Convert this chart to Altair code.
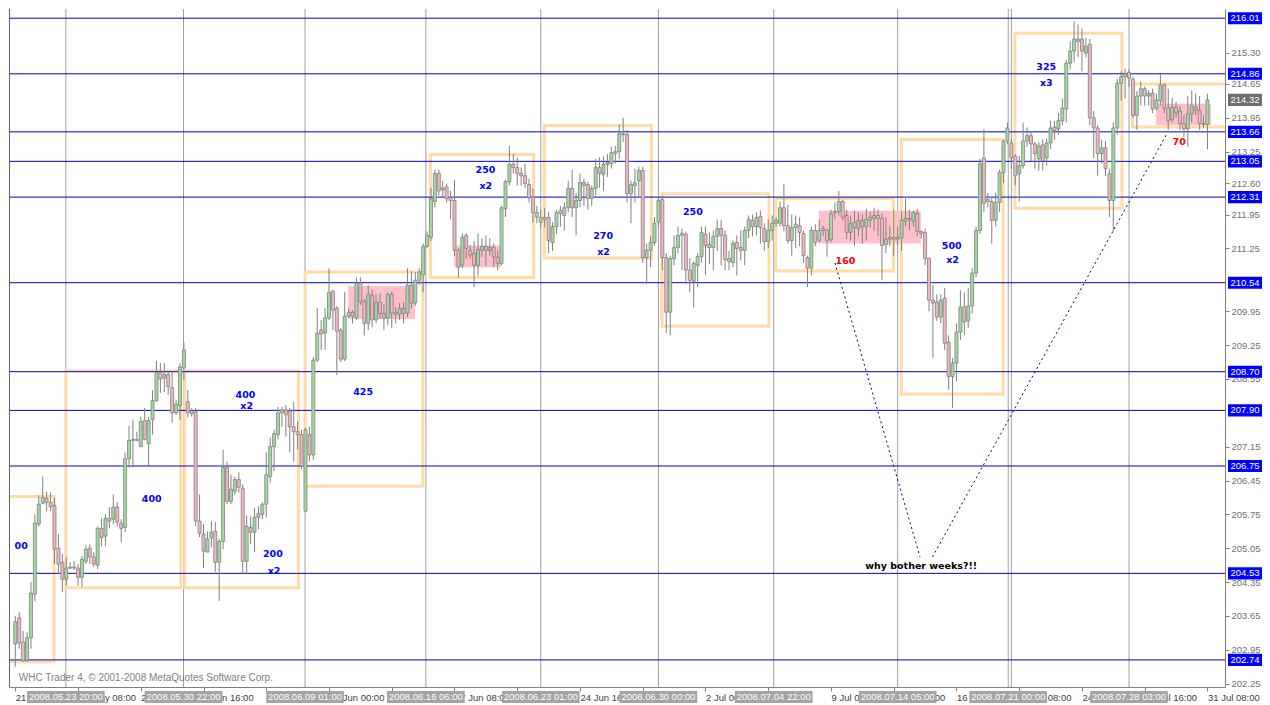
import altair as alt
import pandas as pd

W, H = 1216, 678

# ---- H4 candles (GBP/JPY, 21 May - 31 Jul 2008) ----
opens = [203.07, 203.61, 203.11, 202.72, 203.20, 204.10, 205.55, 205.98, 206.08, 206.00,
         205.93, 205.05, 204.76, 204.41, 204.66, 204.64, 204.64, 204.45, 204.78, 205.05,
         204.87, 204.70, 205.46, 205.30, 205.67, 205.65, 205.90, 205.57, 205.48, 206.90,
         207.28, 207.30, 207.15, 207.69, 207.21, 207.71, 208.10, 208.68, 208.57, 208.64,
         208.37, 207.85, 208.00, 208.78, 208.08, 207.89, 207.87, 205.61, 205.34, 204.97,
         205.26, 205.40, 204.76, 205.19, 206.72, 206.02, 206.23, 206.47, 206.29, 204.78,
         205.48, 205.38, 205.69, 205.75, 205.96, 206.53, 207.15, 207.40, 207.85, 207.91,
         207.89, 207.56, 207.46, 207.40, 205.82, 207.40, 206.98, 208.94, 209.56, 209.50,
         209.81, 210.36, 210.01, 209.56, 208.96, 209.85, 209.93, 209.81, 210.53, 210.16,
         209.70, 210.28, 209.77, 210.14, 209.90, 209.81, 210.30, 209.93, 209.89, 210.01,
         209.91, 210.49, 210.12, 210.59, 210.70, 211.29, 211.48, 212.22, 212.80, 212.46,
         212.52, 212.30, 212.24, 211.21, 210.90, 211.52, 211.21, 211.15, 210.90, 211.21,
         211.29, 211.21, 211.27, 211.07, 210.94, 212.07, 212.63, 212.99, 212.92, 212.80,
         212.75, 212.57, 212.32, 211.90, 211.79, 211.89, 211.89, 211.37, 211.70, 212.03,
         211.93, 212.09, 212.49, 212.09, 212.24, 212.61, 212.57, 212.28, 212.49, 212.92,
         212.78, 212.99, 213.00, 213.21, 213.25, 213.62, 213.60, 212.38, 212.55, 212.65,
         212.86, 211.06, 211.21, 211.37, 211.79, 212.26, 211.06, 209.93, 211.04, 211.27,
         211.52, 211.54, 210.80, 210.57, 210.90, 211.08, 211.54, 211.33, 211.27, 211.50,
         211.66, 211.52, 211.04, 210.96, 211.37, 211.27, 211.21, 211.62, 211.83, 211.70,
         211.91, 211.66, 211.39, 211.62, 211.77, 211.77, 212.09, 211.72, 211.41, 211.68,
         211.72, 211.56, 211.06, 210.84, 211.62, 211.41, 211.62, 211.62, 211.43, 211.99,
         212.01, 212.22, 211.93, 211.58, 211.79, 211.66, 211.83, 211.70, 211.83, 211.87,
         211.93, 211.87, 211.33, 211.44, 211.48, 211.44, 211.46, 211.81, 211.87, 211.81,
         211.97, 211.60, 211.58, 211.04, 210.18, 210.14, 209.83, 210.22, 209.31, 208.60,
         208.88, 209.52, 210.04, 209.75, 210.06, 210.74, 211.62, 213.12, 212.22, 212.22,
         211.83, 212.20, 212.82, 213.47, 213.43, 213.16, 212.79, 212.96, 213.47, 213.58,
         213.41, 213.10, 213.39, 213.12, 213.43, 213.76, 213.72, 213.89, 214.13, 215.08,
         215.33, 215.58, 215.58, 215.29, 215.47, 213.95, 213.74, 213.21, 213.33, 212.79,
         212.24, 213.74, 214.66, 214.80, 214.89, 214.75, 214.00, 214.40, 214.55, 214.40,
         214.46, 214.15, 214.30, 214.63, 214.15, 213.91, 214.17, 214.09, 213.83, 213.72,
         214.03, 214.17, 214.11, 213.83, 213.81]
highs = [203.65, 203.73, 203.34, 203.32, 204.35, 205.75, 206.14, 206.53, 206.22, 206.20,
         206.10, 205.34, 204.93, 204.87, 204.76, 204.78, 204.72, 204.89, 205.11, 205.13,
         204.97, 205.50, 205.67, 205.75, 205.90, 206.16, 206.00, 205.65, 207.03, 207.58,
         207.71, 207.46, 207.77, 207.95, 207.77, 208.32, 208.92, 208.88, 208.88, 208.70,
         208.70, 208.12, 208.88, 209.31, 208.32, 207.95, 207.95, 206.16, 205.55, 205.40,
         205.61, 205.59, 205.24, 207.09, 206.84, 206.57, 206.53, 206.62, 206.37, 205.73,
         205.71, 205.88, 205.92, 206.00, 207.03, 207.34, 207.50, 207.97, 207.97, 208.01,
         207.95, 208.08, 207.67, 207.50, 207.54, 207.56, 209.00, 210.02, 209.77, 210.02,
         210.84, 210.40, 210.06, 209.60, 210.35, 210.01, 209.97, 210.65, 210.65, 210.20,
         210.49, 210.40, 210.30, 210.32, 210.10, 210.34, 210.36, 210.04, 210.12, 210.14,
         210.84, 210.78, 210.76, 210.84, 211.35, 211.60, 212.50, 212.88, 212.88, 212.65,
         212.59, 212.44, 212.67, 211.25, 211.56, 211.56, 211.31, 211.40, 211.56, 211.46,
         211.52, 211.46, 211.35, 211.21, 212.13, 212.67, 213.37, 213.20, 213.13, 212.92,
         213.00, 212.69, 212.49, 212.13, 212.05, 212.09, 212.00, 211.80, 212.05, 212.13,
         212.20, 212.65, 212.88, 212.40, 212.80, 212.69, 212.63, 212.55, 213.10, 213.13,
         213.15, 213.20, 213.35, 213.37, 213.81, 213.95, 213.70, 212.65, 212.90, 212.94,
         212.94, 211.35, 211.50, 211.90, 212.30, 212.34, 211.15, 211.10, 211.52, 211.70,
         211.66, 211.60, 211.05, 210.98, 211.15, 211.70, 211.70, 211.58, 211.62, 211.85,
         211.83, 211.62, 211.20, 211.41, 211.52, 211.62, 211.70, 211.93, 211.95, 212.00,
         212.03, 211.77, 211.85, 211.93, 211.89, 212.22, 212.58, 212.15, 211.95, 211.93,
         211.89, 211.62, 211.10, 211.70, 211.75, 211.85, 211.72, 211.66, 212.05, 212.20,
         212.44, 212.26, 212.05, 211.93, 212.03, 211.99, 211.95, 212.07, 212.01, 212.09,
         212.05, 211.97, 211.89, 211.70, 212.05, 211.70, 212.03, 212.28, 212.05, 212.03,
         212.07, 211.62, 211.66, 211.06, 210.49, 210.30, 210.30, 210.43, 209.45, 208.98,
         209.70, 210.38, 210.34, 210.43, 210.84, 211.70, 213.10, 213.72, 212.40, 212.30,
         212.40, 212.88, 213.50, 213.85, 213.50, 213.20, 213.16, 213.85, 213.75, 213.66,
         213.45, 213.45, 213.50, 213.52, 213.89, 213.89, 214.05, 214.35, 215.15, 215.53,
         215.95, 215.88, 215.80, 215.60, 215.58, 214.09, 213.80, 213.50, 213.47, 212.90,
         213.85, 214.75, 214.91, 214.97, 214.95, 214.80, 214.50, 214.70, 214.60, 214.52,
         214.55, 214.45, 214.86, 214.66, 214.55, 214.36, 214.28, 214.20, 214.00, 214.40,
         214.52, 214.45, 214.40, 214.00, 214.45]
lows = [202.60, 202.97, 202.70, 202.70, 202.97, 203.95, 205.50, 205.96, 205.81, 205.81,
        204.72, 204.52, 204.14, 204.27, 204.62, 204.60, 204.27, 204.25, 204.72, 204.72,
        204.66, 204.62, 205.09, 205.09, 205.46, 205.55, 205.50, 205.17, 205.38, 206.72,
        206.72, 207.26, 207.15, 207.28, 206.76, 207.40, 208.08, 208.26, 208.28, 208.22,
        207.65, 207.80, 207.71, 208.53, 207.75, 207.77, 205.50, 205.28, 204.64, 204.97,
        205.07, 204.56, 203.96, 205.03, 205.96, 205.96, 206.16, 206.20, 204.52, 204.52,
        205.13, 204.97, 205.44, 205.65, 205.69, 206.41, 206.64, 207.30, 207.56, 207.36,
        207.03, 206.84, 207.09, 206.68, 205.79, 206.84, 206.88, 208.90, 209.15, 209.15,
        209.77, 209.56, 208.63, 208.90, 208.92, 209.81, 209.70, 209.77, 210.08, 209.45,
        209.56, 209.62, 209.70, 209.80, 209.56, 209.66, 209.60, 209.70, 209.77, 209.70,
        209.83, 210.00, 210.06, 210.49, 210.34, 211.25, 211.40, 212.10, 212.34, 212.30,
        212.20, 211.85, 211.10, 210.65, 210.84, 211.04, 211.04, 210.45, 210.69, 211.07,
        210.88, 211.10, 210.86, 210.80, 210.90, 211.90, 212.55, 212.80, 212.55, 212.55,
        212.50, 212.20, 211.79, 211.77, 211.68, 211.68, 211.15, 211.20, 211.55, 211.70,
        211.62, 212.00, 211.90, 211.52, 212.10, 212.13, 212.05, 212.13, 212.34, 212.50,
        212.44, 212.73, 212.90, 213.00, 213.10, 213.45, 212.20, 211.77, 212.20, 212.30,
        210.95, 210.52, 210.86, 211.30, 211.70, 210.80, 209.50, 209.45, 210.90, 211.15,
        210.80, 210.52, 210.35, 210.03, 210.45, 210.95, 210.70, 210.92, 210.80, 211.20,
        210.90, 210.80, 210.80, 210.86, 210.69, 211.00, 210.90, 211.46, 211.50, 211.52,
        211.35, 211.20, 211.25, 211.41, 211.70, 211.70, 211.60, 211.35, 211.10, 211.25,
        211.30, 210.95, 210.45, 210.69, 211.30, 211.37, 211.50, 211.08, 211.37, 211.85,
        211.93, 211.83, 211.44, 211.41, 211.30, 211.50, 211.35, 211.41, 211.68, 211.62,
        211.50, 210.59, 211.15, 211.30, 211.10, 211.30, 211.20, 211.70, 211.62, 211.70,
        211.50, 211.45, 210.90, 209.95, 208.98, 209.75, 209.70, 209.15, 208.33, 207.95,
        208.50, 209.35, 209.45, 209.60, 209.90, 210.65, 211.55, 212.00, 212.10, 211.35,
        211.70, 212.00, 212.60, 213.40, 212.90, 212.55, 212.22, 212.90, 213.35, 213.06,
        212.90, 212.86, 212.86, 212.96, 213.30, 213.50, 213.60, 213.80, 213.85, 214.95,
        215.10, 215.20, 214.91, 215.20, 213.80, 213.12, 212.75, 213.00, 212.75, 211.90,
        211.60, 213.60, 214.30, 214.35, 214.60, 213.95, 213.70, 214.20, 214.20, 214.20,
        214.05, 214.10, 214.20, 214.05, 213.70, 213.85, 213.95, 213.70, 213.55, 213.35,
        213.85, 214.00, 213.70, 213.74, 213.30]
closes = [203.53, 203.09, 202.72, 203.20, 204.12, 205.57, 205.96, 206.10, 206.00, 205.91,
          205.03, 204.72, 204.41, 204.64, 204.64, 204.66, 204.45, 204.82, 205.03, 204.87,
          204.72, 205.46, 205.27, 205.67, 205.61, 205.90, 205.59, 205.46, 206.90, 207.28,
          207.30, 207.28, 207.67, 207.30, 207.69, 208.10, 208.68, 208.55, 208.64, 208.39,
          207.85, 208.03, 208.80, 209.15, 207.85, 207.83, 205.61, 205.36, 204.99, 205.24,
          205.38, 204.76, 205.19, 206.72, 206.02, 206.27, 206.47, 206.31, 204.78, 205.50,
          205.38, 205.69, 205.77, 205.96, 206.57, 207.15, 207.42, 207.85, 207.91, 207.81,
          207.56, 207.46, 207.40, 206.74, 207.50, 206.98, 208.94, 209.50, 209.48, 209.81,
          210.34, 209.97, 209.54, 208.96, 209.85, 209.93, 209.85, 210.53, 210.14, 209.70,
          210.30, 209.77, 210.14, 209.90, 209.81, 210.30, 209.91, 209.89, 210.01, 209.91,
          210.49, 210.12, 210.59, 210.76, 211.29, 211.52, 212.28, 212.80, 212.44, 212.50,
          212.28, 212.24, 211.21, 210.86, 211.48, 211.25, 211.11, 210.90, 211.23, 211.29,
          211.21, 211.27, 211.07, 210.94, 212.09, 212.63, 212.99, 212.92, 212.80, 212.75,
          212.59, 212.30, 211.99, 211.99, 211.89, 211.85, 211.41, 211.70, 211.99, 211.97,
          212.09, 212.49, 212.09, 212.24, 212.61, 212.55, 212.28, 212.49, 212.92, 212.80,
          212.99, 213.03, 213.23, 213.25, 213.62, 213.60, 212.38, 212.57, 212.61, 212.86,
          211.06, 211.21, 211.37, 211.77, 212.24, 211.06, 209.93, 211.04, 211.27, 211.52,
          211.56, 210.80, 210.59, 210.94, 211.08, 211.58, 211.31, 211.27, 211.50, 211.66,
          211.52, 211.02, 210.98, 211.35, 211.25, 211.21, 211.62, 211.85, 211.70, 211.89,
          211.68, 211.39, 211.62, 211.77, 211.83, 212.09, 211.72, 211.41, 211.68, 211.75,
          211.58, 211.10, 210.84, 211.62, 211.37, 211.62, 211.66, 211.41, 211.97, 212.01,
          212.22, 211.89, 211.58, 211.77, 211.68, 211.83, 211.70, 211.85, 211.89, 211.93,
          211.87, 211.31, 211.44, 211.48, 211.44, 211.48, 211.83, 211.87, 211.85, 211.99,
          211.60, 211.56, 211.04, 210.18, 210.12, 209.83, 210.18, 209.29, 208.60, 208.88,
          209.52, 210.04, 209.73, 210.06, 210.74, 211.62, 213.00, 212.18, 212.26, 211.83,
          212.20, 212.82, 213.47, 213.74, 213.12, 212.75, 212.96, 213.47, 213.58, 213.41,
          213.21, 213.37, 213.06, 213.43, 213.74, 213.68, 213.89, 214.15, 215.08, 215.33,
          215.58, 215.53, 215.33, 215.43, 213.95, 213.74, 213.21, 213.33, 212.90, 212.24,
          213.74, 214.66, 214.80, 214.86, 214.77, 214.00, 214.40, 214.55, 214.40, 214.46,
          214.13, 214.32, 214.63, 214.15, 213.89, 214.17, 214.05, 213.83, 213.72, 214.03,
          214.20, 214.11, 213.83, 213.81, 214.32]

# ---- horizontal levels, axis labels ----
level_prices = [216.01, 214.86, 213.66, 213.05, 212.31, 210.54, 208.70, 207.90, 206.75, 204.53, 202.74]
last_price = [214.32]
price_ticks = [215.30, 214.65, 213.95, 213.25, 212.60, 211.95, 211.25, 209.95, 209.25,
               208.55, 207.15, 206.45, 205.75, 205.05, 204.35, 203.65, 202.95, 202.25]
time_tick_bars = list(range(0, 305, 16))
# labels hidden completely under the date tags in the picture are left blank
time_tick_labels = ["21 May 2008", "26 May 08:00", "28 May 16:00", "2 Jun 16:00", "",
                    "10 Jun 00:00", "", "17 Jun 08:00", "", "24 Jun 16:00",
                    "", "2 Jul 00:00", "", "9 Jul 08:00", "11 Jul 16:00",
                    "16 Jul 00:00", "18 Jul 08:00", "24 Jul 16:00", "29 Jul 16:00", "31 Jul 08:00"]

# ---- vertical separators and their date tags ----
separator_bars = [12.9, 42.9, 73.9, 104.7, 134.0, 164.0, 193.4, 225.0, 253.2, 254.0, 284.0]
tag_bars = [12.9, 42.9, 73.9, 104.7, 134.0, 164.0, 193.4, 225.0, 253.2, 284.0]
tag_labels = ["2008.05.23 20:00", "2008.05.30 22:00", "2008.06.09 01:00", "2008.06.16 06:00",
              "2008.06.23 01:00", "2008.06.30 00:00", "2008.07.04 22:00", "2008.07.14 05:00",
              "2008.07.21 00:00", "2008.07.28 03:00"]

# ---- orange range boxes ----
box_left = [-6, 12.9, 43.2, 73.9, 105.9, 134.9, 164.9, 193.9, 225.9, 254.9, 284.9]
box_right = [9.9, 42.2, 72.2, 103.9, 132.2, 162.2, 192.2, 223.9, 251.9, 282.2, 312]
box_top = [206.12, 208.72, 208.72, 210.76, 213.19, 213.79, 212.38, 212.28, 213.50, 215.70, 214.65]
box_bottom = [202.70, 204.23, 204.23, 206.33, 210.65, 211.05, 209.64, 210.78, 208.24, 212.08, 213.76]

# ---- pink consolidation zones ----
zone_left = [84.9, 111.9, 204.9, 290.9]
zone_right = [101.9, 123.9, 230.9, 304.9]
zone_top = [210.47, 211.31, 212.03, 214.24]
zone_bottom = [209.79, 210.86, 211.35, 213.80]

# ---- annotations ----
note_text = ["00", "400", "400", "x2", "200", "x2", "425", "250", "x2", "270", "x2",
             "250", "160", "500", "x2", "325", "x3", "70", "why bother weeks?!!"]
note_bar = [1.5, 34.8, 58.7, 59.0, 65.7, 66.0, 88.7, 119.9, 120.0, 149.9, 150.0,
            172.8, 211.7, 238.8, 239.0, 262.9, 262.9, 296.8, 231.0]
note_price = [205.10, 206.07, 208.21, 207.99, 204.92, 204.58, 208.29, 212.87, 212.53, 211.51, 211.18,
              212.00, 210.99, 211.30, 211.01, 215.00, 214.68, 213.45, 204.68]
note_color = ["#0000FF"] * 12 + ["#FF0000"] + ["#0000FF"] * 4 + ["#FF0000", "#000000"]

trend_id = ["a", "a", "b", "b"]
trend_bar = [209.0, 230.7, 233.9, 293.8]
trend_price = [210.95, 204.87, 204.87, 213.64]

# ---------------------------------------------------------------------------
candles = pd.DataFrame({"bar": list(range(len(closes))), "open": opens, "high": highs,
                        "low": lows, "close": closes})
candles["dir"] = ["up" if c >= o else "down" for o, c in zip(opens, closes)]

xs = alt.Scale(domain=[-0.325, 307.2], nice=False, zero=False)
ys = alt.Scale(domain=[202.18, 216.20], nice=False, zero=False)


def X(f):
    return alt.X(f, type="quantitative", scale=xs, axis=None)


def Y(f):
    return alt.Y(f, type="quantitative", scale=ys, axis=None)


label_expr = "[" + ",".join("'%s'" % s for s in time_tick_labels) + "][round(datum.value / 16)]"
x_axis = alt.Axis(values=time_tick_bars, labelExpr=label_expr, labelAlign="left", labelBaseline="top",
                  labelPadding=1, tickSize=4, tickColor="#808080", domainColor="#808080",
                  labelColor="#404040", labelFont="Liberation Sans", labelFontSize=9.5,
                  labelFlush=False, labelOverlap=False, grid=False, title=None)
y_axis = alt.Axis(orient="right", values=price_ticks, format=".2f", tickSize=4, tickColor="#808080",
                  domainColor="#808080", labelColor="#707070", labelFont="Liberation Sans",
                  labelFontSize=9.5, labelPadding=2, labelFlush=False, labelOverlap=False,
                  grid=False, title=None)

left_border = alt.Chart(pd.DataFrame({"k": [0]})).mark_rule(color="#606060").encode(x=alt.value(0.5))

separators = alt.Chart(pd.DataFrame({"bar": separator_bars})).mark_rule(
    color="#A0A0A0", strokeWidth=1).encode(x=X("bar"))

zones = alt.Chart(pd.DataFrame({"l": zone_left, "r": zone_right, "t": zone_top, "b": zone_bottom})).mark_rect(
    color="#FFC0CB", clip=True).encode(x=X("l"), x2="r", y=Y("t"), y2="b")

boxes = alt.Chart(pd.DataFrame({"l": box_left, "r": box_right, "t": box_top, "b": box_bottom})).mark_rect(
    fill="#FFFFFF", fillOpacity=0, stroke="#FFDCA6", strokeWidth=3, clip=True).encode(
    x=X("l"), x2="r", y=Y("t"), y2="b")

levels = alt.Chart(pd.DataFrame({"price": level_prices})).mark_rule(
    color="#0000C8", strokeWidth=1).encode(y=Y("price"))

trends = alt.Chart(pd.DataFrame({"id": trend_id, "bar": trend_bar, "price": trend_price})).mark_line(
    color="#000080", strokeWidth=1, strokeDash=[2, 3]).encode(x=X("bar"), y=Y("price"), detail="id:N")

wicks = alt.Chart(candles).mark_rule(color="#808080", strokeWidth=1).encode(
    x=alt.X("bar:Q", scale=xs, axis=x_axis),
    y=alt.Y("low:Q", scale=ys, axis=y_axis),
    y2="high:Q")

bodies = alt.Chart(candles).mark_bar(size=3, stroke="#808080", strokeWidth=0.8, orient="vertical").encode(
    x=X("bar"), y=Y("open"), y2="close",
    color=alt.Color("dir:N", scale=alt.Scale(domain=["up", "down"], range=["#9EDB9E", "#F2B5BE"]),
                    legend=None))

notes = alt.Chart(pd.DataFrame({"text": note_text, "bar": note_bar, "price": note_price,
                                "color": note_color})).mark_text(
    font="DejaVu Sans", fontWeight="bold", fontSize=9.5, align="center", baseline="middle").encode(
    x=X("bar"), y=Y("price"), text="text:N", color=alt.Color("color:N", scale=None))

watermark = alt.Chart(pd.DataFrame({"bar": [0.9], "price": [202.37],
                                    "text": ["WHC Trader 4, \u00a9 2001-2008 MetaQuotes Software Corp."]})).mark_text(
    font="Liberation Sans", fontSize=10, align="left", baseline="middle", color="#808080").encode(
    x=X("bar"), y=Y("price"), text="text:N")

level_boxes = alt.Chart(pd.DataFrame({"price": level_prices})).transform_calculate(
    t="datum.price + 0.125", b="datum.price - 0.125").mark_rect(color="#0000FF").encode(
    x=alt.value(W + 3), x2=alt.value(W + 37), y=Y("t:Q"), y2="b:Q")
level_text = alt.Chart(pd.DataFrame({"price": level_prices})).mark_text(
    font="Liberation Sans", fontSize=9.5, color="white", align="center", baseline="middle").encode(
    x=alt.value(W + 20), y=Y("price"), text=alt.Text("price:Q", format=".2f"))

last_box = alt.Chart(pd.DataFrame({"price": last_price})).transform_calculate(
    t="datum.price + 0.125", b="datum.price - 0.125").mark_rect(color="#6E6E6E").encode(
    x=alt.value(W + 3), x2=alt.value(W + 37), y=Y("t:Q"), y2="b:Q")
last_text = alt.Chart(pd.DataFrame({"price": last_price})).mark_text(
    font="Liberation Sans", fontSize=9.5, color="white", align="center", baseline="middle").encode(
    x=alt.value(W + 20), y=Y("price"), text=alt.Text("price:Q", format=".2f"))

tag_boxes = alt.Chart(pd.DataFrame({"bar": tag_bars})).transform_calculate(
    l="datum.bar - 9.9", r="datum.bar + 9.9").mark_rect(color="#A4A4A4").encode(
    x=X("l:Q"), x2="r:Q", y=alt.value(H + 4), y2=alt.value(H + 16))
tag_text = alt.Chart(pd.DataFrame({"bar": tag_bars, "label": tag_labels})).mark_text(
    font="Liberation Sans", fontSize=9.5, color="white", align="center", baseline="middle").encode(
    x=X("bar"), y=alt.value(H + 10), text="label:N")

chart = alt.layer(
    separators, zones, boxes, levels, trends, wicks, bodies, notes, watermark, left_border,
    level_boxes, level_text, last_box, last_text, tag_boxes, tag_text
).resolve_axis(x="independent", y="independent").properties(
    width=W, height=H, padding=0, background="white").configure_view(stroke=None)

chart.save("out.html", embed_options={"renderer": "svg", "actions": False})
